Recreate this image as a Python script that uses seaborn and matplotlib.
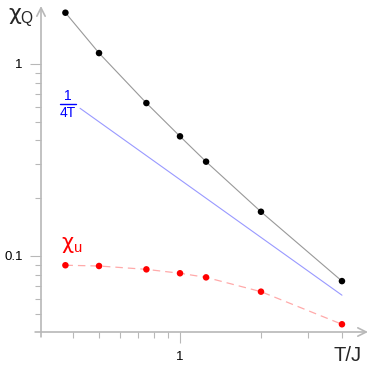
import numpy as np
import pandas as pd
import matplotlib.pyplot as plt
import seaborn as sns
from matplotlib.ticker import FixedLocator, NullFormatter, FixedFormatter

# ==========================
# Data
# ==========================
T_VALUES = [0.375, 0.5, 0.75, 1.0, 1.25, 2.0, 4.0]
CHI_Q = [1.85, 1.14, 0.626, 0.42, 0.31, 0.170, 0.074]
CHI_U = [0.0895, 0.0887, 0.0852, 0.0813, 0.0774, 0.0652, 0.0441]
T_ASYM = [0.425, 4.0]
ASYM = [0.588, 0.0625]          # 1/(4T)

X_MAJOR = [1.0]
X_MINOR = [0.4, 0.5, 0.6, 0.7, 0.8, 0.9, 2.0, 3.0, 4.0]
Y_MAJOR = [0.1, 1.0]
Y_LABELS = ["0.1", "1"]
Y_MINOR = [0.05, 0.06, 0.07, 0.08, 0.09, 0.2, 0.3, 0.4, 0.5, 0.6, 0.7, 0.8, 0.9]

W, H = 374, 369
AXIS_GREY = "#b8b8b8"

sns.set_theme(style="white")
plt.rcParams["font.family"] = ["Liberation Sans", "DejaVu Sans"]
plt.rcParams["mathtext.fontset"] = "custom"
plt.rcParams["mathtext.rm"] = "Liberation Sans"
plt.rcParams["mathtext.it"] = "DejaVu Sans"


def px(x, y):
    return x / W, 1 - y / H


df_q = pd.DataFrame({"T": T_VALUES, "chi": CHI_Q})
df_u = pd.DataFrame({"T": T_VALUES, "chi": CHI_U})
df_a = pd.DataFrame({"T": T_ASYM, "chi": ASYM})

fig = plt.figure(figsize=(W / 100, H / 100), dpi=100)
# axes spans pixel 41..368 in x, 6..332 in y
ax = fig.add_axes([41 / W, (H - 332) / H, (368 - 41) / W, (332 - 6) / H])
ax.set_xscale("log")
ax.set_yscale("log")

sns.lineplot(data=df_a, x="T", y="chi", ax=ax, color="#9999ff", lw=0.8)
sns.lineplot(data=df_q, x="T", y="chi", ax=ax, color="#999999", lw=0.8)
sns.lineplot(data=df_u, x="T", y="chi", ax=ax, color="#ffaaaa", lw=0.9,
             dashes=False, linestyle=(0, (6, 4)))
sns.scatterplot(data=df_q, x="T", y="chi", ax=ax, color="black", s=22,
                edgecolor="none", zorder=5)
sns.scatterplot(data=df_u, x="T", y="chi", ax=ax, color="#ff0000", s=22,
                edgecolor="none", zorder=5)

ax.set_xlim(10 ** ((41 - 180) / 269), 10 ** ((368 - 180) / 269))
ax.set_ylim(10 ** (-1 - (332 - 256) / 192), 10 ** ((64 - 6) / 192))

for s in ax.spines.values():
    s.set_visible(False)

ax.xaxis.set_major_locator(FixedLocator(X_MAJOR))
ax.xaxis.set_major_formatter(FixedFormatter(["1"]))
ax.xaxis.set_minor_locator(FixedLocator(X_MINOR))
ax.xaxis.set_minor_formatter(NullFormatter())
ax.yaxis.set_major_locator(FixedLocator(Y_MAJOR))
ax.yaxis.set_major_formatter(FixedFormatter(Y_LABELS))
ax.yaxis.set_minor_locator(FixedLocator(Y_MINOR))
ax.yaxis.set_minor_formatter(NullFormatter())

ax.tick_params(which="both", direction="out", color=AXIS_GREY, width=0.8,
               labelsize=9.5, labelcolor="black", bottom=True, left=True)
ax.tick_params(which="major", length=8)
ax.tick_params(which="minor", length=4)
ax.tick_params(axis="x", which="major", pad=6)
ax.tick_params(axis="y", which="major", pad=5)
ax.set_xlabel("")
ax.set_ylabel("")
ax.grid(False)

# axis lines with open arrow heads
arrow = dict(arrowstyle="->,head_length=0.5,head_width=0.25", color=AXIS_GREY,
             lw=1.2, shrinkA=0, shrinkB=0)
ax.annotate("", xy=(1.0, 0), xytext=(-0.018, 0), xycoords="axes fraction",
            arrowprops=arrow, annotation_clip=False)
ax.annotate("", xy=(0, 1.0), xytext=(0, -0.015), xycoords="axes fraction",
            arrowprops=arrow, annotation_clip=False)

# labels
fig.text(*px(8, 20), r"$\chi_\mathrm{Q}$", fontsize=16, ha="left", va="baseline")
fig.text(*px(334, 361), "T/J", fontsize=14.5, ha="left", va="baseline")
fig.text(*px(61, 249), r"$\chi_\mathrm{u}$", fontsize=15, color="red",
         ha="left", va="baseline")
fig.text(*px(67.5, 100), "1", fontsize=10, color="blue", ha="center", va="baseline")
fig.text(*px(67.5, 117), "4T", fontsize=10, color="blue", ha="center", va="baseline")
fig.add_artist(plt.Line2D([60 / W, 76 / W], [1 - 103.5 / H, 1 - 103.5 / H],
                          color="blue", lw=1.0))

fig.savefig("out.png", dpi=100, facecolor="white")
